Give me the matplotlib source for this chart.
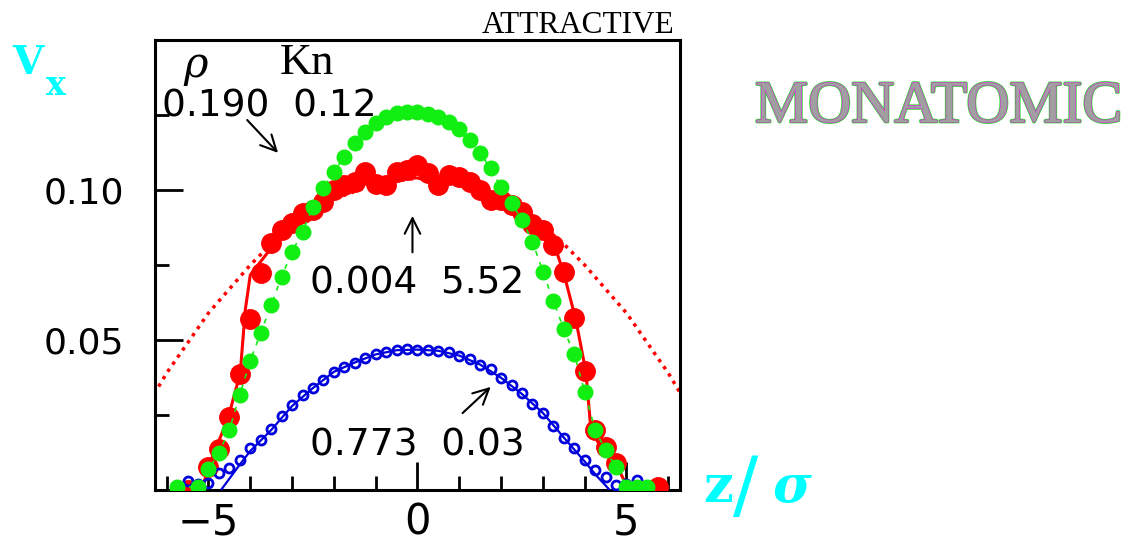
import matplotlib.pyplot as plt
import matplotlib.patheffects as pe
from matplotlib.ticker import MultipleLocator

# red: filled points, smooth solid line, dotted parabola
red_x = [-5.5, -5.0, -4.75, -4.5, -4.25, -4.0, -3.75, -3.5, -3.25, -3.0, -2.75, -2.5,
         -2.25, -2.0, -1.75, -1.5, -1.25, -1.0, -0.75, -0.5, -0.25, 0.0, 0.25, 0.5,
         0.75, 1.0, 1.25, 1.5, 1.75, 2.0, 2.25, 2.5, 2.75, 3.0, 3.25, 3.5, 3.75, 4.0,
         4.25, 4.5, 4.75, 5.75]
red_y = [0.0, 0.0078, 0.0136, 0.0242, 0.0387, 0.0569, 0.0724, 0.0822, 0.0867, 0.089,
         0.0924, 0.0933, 0.0961, 0.100, 0.1017, 0.1028, 0.106, 0.102, 0.1017, 0.106,
         0.1067, 0.1083, 0.1056, 0.1017, 0.105, 0.1044, 0.1028, 0.100, 0.0967, 0.0967,
         0.095, 0.0925, 0.0885, 0.0865, 0.0817, 0.0728, 0.0572, 0.0398, 0.020, 0.0145,
         0.009, 0.001]

red_line_x = [-5.16, -5.0, -4.53, -4.24, -4.12, -4.0, -3.72, -3.48, -3.0, -2.5, -2.0,
              -1.5, -1.0, -0.5, 0.0, 0.5, 1.0, 1.5, 2.0, 2.5, 3.0, 3.26, 3.5, 3.79,
              4.03, 4.15, 4.39, 4.7, 4.94, 5.04]
red_line_y = [0.0, 0.0078, 0.024, 0.039, 0.060, 0.0717, 0.0767, 0.081, 0.087, 0.092,
              0.097, 0.101, 0.103, 0.104, 0.104, 0.103, 0.102, 0.099, 0.096, 0.092,
              0.087, 0.0823, 0.0723, 0.0567, 0.0393, 0.020, 0.0143, 0.010, 0.0033, 0.0007]

fit_x = [-6.3, -6.0, -5.5, -5.0, -4.5, -4.0, -3.5, -3.0, -2.0, -1.0, 0.0,
         1.0, 2.0, 3.0, 3.5, 4.0, 4.5, 5.0, 5.5, 6.0, 6.3]
fit_y = [0.032, 0.039, 0.049, 0.059, 0.067, 0.075, 0.082, 0.088, 0.097, 0.102, 0.104,
         0.102, 0.097, 0.088, 0.082, 0.075, 0.067, 0.059, 0.049, 0.039, 0.032]

# green: filled points with dotted line
green_x = [-5.75, -5.25, -5.0, -4.75, -4.5, -4.25, -4.0, -3.75, -3.5, -3.25, -3.0,
           -2.75, -2.5, -2.25, -2.0, -1.75, -1.5, -1.25, -1.0, -0.75, -0.5, -0.25,
           0.0, 0.25, 0.5, 0.75, 1.0, 1.25, 1.5, 1.75, 2.0, 2.25, 2.5, 2.75, 3.0,
           3.25, 3.5, 3.75, 4.0, 4.25, 4.5, 4.75, 5.0, 5.25, 5.5]
green_y = [0.0011, 0.001, 0.0069, 0.0124, 0.020, 0.0317, 0.0431, 0.0524, 0.0617,
           0.0711, 0.0794, 0.0861, 0.0944, 0.1006, 0.1061, 0.111, 0.1156, 0.1194,
           0.1222, 0.1244, 0.1258, 0.1261, 0.1261, 0.1253, 0.1244, 0.1228, 0.1202,
           0.1167, 0.1122, 0.1072, 0.1009, 0.0956, 0.0900, 0.0828, 0.0728, 0.0631,
           0.0536, 0.0453, 0.0328, 0.020, 0.0133, 0.0076, 0.0011, 0.001, 0.001]

# blue: open circles with solid line
blue_x = [-5.5, -5.25, -5.0, -4.75, -4.5, -4.25, -4.0, -3.75, -3.5, -3.25, -3.0,
          -2.75, -2.5, -2.25, -2.0, -1.75, -1.5, -1.25, -1.0, -0.75, -0.5, -0.25,
          0.0, 0.25, 0.5, 0.75, 1.0, 1.25, 1.5, 1.75, 2.0, 2.25, 2.5, 2.75, 3.0,
          3.25, 3.5, 3.75, 4.0, 4.25, 4.5, 4.75, 5.0, 5.25]
blue_y = [0.003, 0.002, 0.0025, 0.0056, 0.0075, 0.010, 0.014, 0.0167, 0.0205, 0.0245,
          0.0283, 0.0315, 0.034, 0.0367, 0.0394, 0.0411, 0.0422, 0.0439, 0.0452,
          0.0461, 0.0466, 0.047, 0.0468, 0.0465, 0.0464, 0.046, 0.0447, 0.0437,
          0.0415, 0.0402, 0.0374, 0.035, 0.0322, 0.0285, 0.0257, 0.0212, 0.0173,
          0.0139, 0.010, 0.0068, 0.0045, 0.0018, 0.002, 0.0033]
blue_line_x = [-4.7, -4.25, -4.0, -3.5, -3.0, -2.5, -2.0, -1.5, -1.0, -0.5, 0.0,
               0.5, 1.0, 1.5, 2.0, 2.5, 3.0, 3.5, 4.0, 4.3, 4.6]
blue_line_y = [0.0, 0.0085, 0.013, 0.020, 0.028, 0.034, 0.0394, 0.0425, 0.0452, 0.0466,
               0.0468, 0.0464, 0.0448, 0.0418, 0.0374, 0.032, 0.0257, 0.0175, 0.0095,
               0.0045, 0.0]

fig = plt.figure(figsize=(11.28, 5.47), dpi=100)
ax = fig.add_axes([0.1374, 0.1042, 0.4654, 0.8227])

ax.plot(fit_x, fit_y, color='red', lw=2.5, linestyle=(0, (1, 1.5)), zorder=1)
ax.plot(red_line_x, red_line_y, color='red', lw=2.2, zorder=2)
ax.plot(red_x, red_y, 'o', color='red', ms=14, mec='red', zorder=3)
ax.plot(blue_line_x, blue_line_y, color='#0000dd', lw=1.6, zorder=4)
ax.plot(blue_x, blue_y, 'o', mfc='none', mec='#0000dd', ms=6.5, mew=2, zorder=5)
ax.plot(green_x, green_y, color='#11ee11', lw=1.2, linestyle=(0, (3, 4)), zorder=6)
ax.plot(green_x, green_y, 'o', color='#11ee11', ms=10.5, zorder=7)

ax.set_xlim(-6.28, 6.28)
ax.set_ylim(0, 0.15)
ax.set_xticks([-5, 0, 5])
ax.set_xticklabels(['\u22125', '0', '5'])
ax.xaxis.set_minor_locator(MultipleLocator(1))
ax.set_yticks([0.05, 0.10])
ax.set_yticklabels(['0.05', '0.10'])
ax.yaxis.set_minor_locator(MultipleLocator(0.025))
ax.tick_params(which='both', direction='in', width=2, top=False, right=False)
ax.tick_params(which='major', length=20)
ax.tick_params(which='minor', length=10)
ax.tick_params(axis='x', labelsize=30, pad=8)
ax.tick_params(axis='y', labelsize=26, pad=22)
for s in ax.spines.values():
    s.set_linewidth(2.2)

# annotations
ax.text(-5.6, 0.1375, '\u03c1', fontsize=30, family='DejaVu Serif', style='italic')
ax.text(-3.3, 0.1385, 'Kn', fontsize=32, family='Liberation Serif')
ax.text(-6.12, 0.1245, '0.190  0.12', fontsize=27)
ax.annotate('', xy=(-3.29, 0.1117), xytext=(-4.12, 0.124),
            arrowprops=dict(arrowstyle='->', lw=1.5, color='black', mutation_scale=28))
ax.text(-2.57, 0.0655, '0.004  5.52', fontsize=27)
ax.annotate('', xy=(-0.12, 0.0923), xytext=(-0.12, 0.0783),
            arrowprops=dict(arrowstyle='->', lw=1.5, color='black', mutation_scale=28))
ax.text(-2.57, 0.0115, '0.773  0.03', fontsize=27)
ax.annotate('', xy=(1.8, 0.035), xytext=(1.03, 0.025),
            arrowprops=dict(arrowstyle='->', lw=1.5, color='black', mutation_scale=28))

fig.text(675 / 1128, 1 - 33 / 547, 'ATTRACTIVE', fontsize=22.5, family='Liberation Serif',
         ha='right', va='baseline')
fig.text(755 / 1128, 1 - 122 / 547, 'MONATOMIC', fontsize=43, family='Liberation Serif',
         color='#a0a0a0', ha='left', va='baseline',
         path_effects=[pe.Stroke(linewidth=2.0, foreground='#33dd33'),
                       pe.Stroke(linewidth=0.8, foreground='#ee22ee'), pe.Normal()])
fig.text(12 / 1128, 1 - 74 / 547, 'V', fontsize=29, family='DejaVu Serif',
         weight='bold', color='cyan', va='baseline')
fig.text(46 / 1128, 1 - 95 / 547, 'x', fontsize=24, family='DejaVu Serif',
         weight='bold', color='cyan', va='baseline')
fig.text(703 / 1128, 1 - 502 / 547, 'z', fontsize=38, family='DejaVu Serif',
         weight='bold', color='cyan', va='baseline')
fig.text(733 / 1128, 1 - 510 / 547, '/', fontsize=54, family='DejaVu Sans',
         color='cyan', va='baseline')
fig.text(772 / 1128, 1 - 502 / 547, '\u03c3', fontsize=38, family='DejaVu Serif',
         weight='bold', style='italic', color='cyan', va='baseline')

fig.savefig('out.png', dpi=100)
